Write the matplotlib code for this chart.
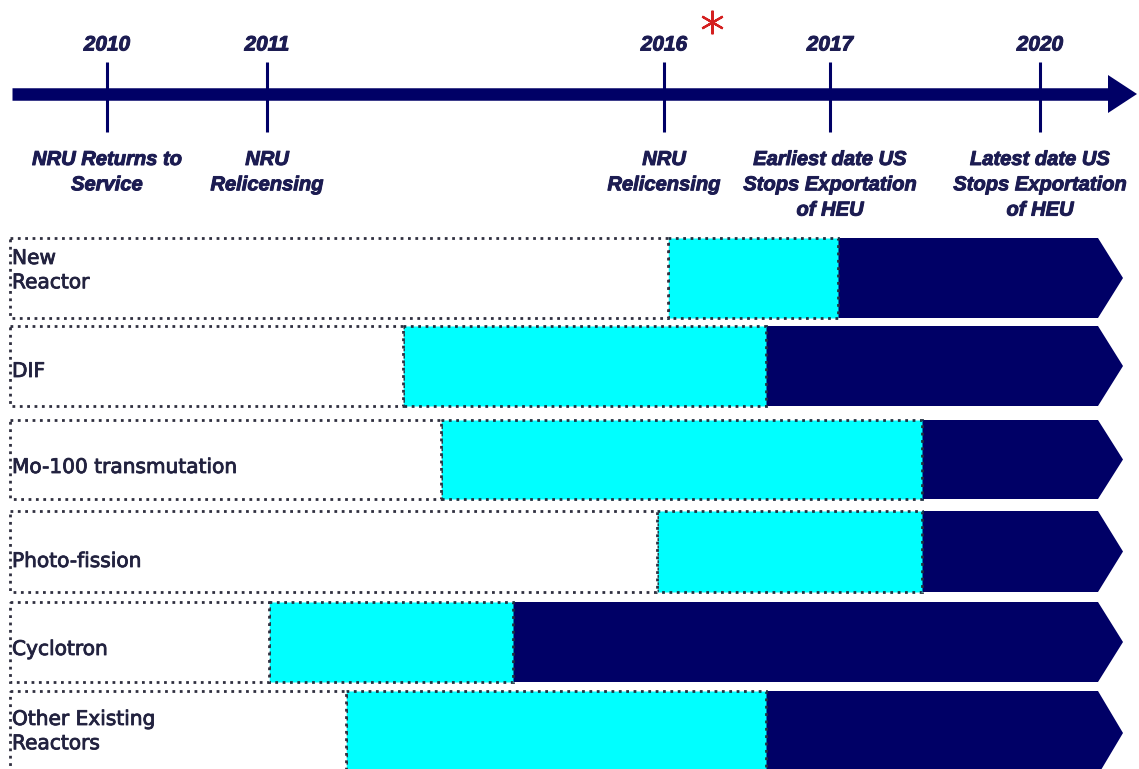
import matplotlib.pyplot as plt
import matplotlib.patheffects as pe
from matplotlib.patches import Rectangle, Polygon

# timeline milestones (positions along the drawing's horizontal scale)
years = ["2010", "2011", "2016", "2017", "2020"]
year_pos = [107, 267, 664, 830, 1040]
milestones = ["NRU Returns to\nService",
              "NRU\nRelicensing",
              "NRU\nRelicensing",
              "Earliest date US\nStops Exportation\nof HEU",
              "Latest date US\nStops Exportation\nof HEU"]

# production pathways: where the development (cyan) and supply (navy) phases begin
pathways = ["New\nReactor", "DIF", "Mo-100 transmutation", "Photo-fission",
            "Cyclotron", "Other Existing\nReactors"]
cyan_start = [668, 403, 441, 657, 269, 346]
navy_start = [838, 766, 922, 922, 513, 766]
row_top = [238, 326, 420, 511, 602, 691]
row_bottom = [318, 406, 499, 592, 682, 775]
# vertical centre of each label's first line
label_y = [259, 372, 468, 562, 650, 720]

NAVY = "#000066"
CYAN = "#00ffff"
TXT = "#1c1c52"
BAR_LEFT = 10
BAR_END = 1098
TIP = 1123

fig = plt.figure(figsize=(11.39, 7.69), dpi=100)
ax = fig.add_axes([0, 0, 1, 1])
ax.set_xlim(0, 1139)
ax.set_ylim(769, 0)
ax.axis("off")

# main timeline arrow
ax.plot([12, 1112], [94, 94], color=NAVY, lw=9, solid_capstyle="butt", zorder=2)
ax.add_patch(Polygon([(1108, 75), (1137, 94), (1108, 113)], closed=True,
                     facecolor=NAVY, edgecolor="none", zorder=2))
ax.vlines(year_pos, 62, 132, color=NAVY, lw=2.2, zorder=3)

heavy = [pe.withStroke(linewidth=0.7, foreground=TXT)]
for x, yr, txt in zip(year_pos, years, milestones):
    ax.text(x, 45, yr, ha="center", va="center", fontsize=15,
            family="Liberation Sans", weight="bold", style="italic", color=TXT,
            path_effects=heavy)
    ax.text(x, 150, txt, ha="center", va="top", fontsize=14.5, linespacing=1.42,
            family="Liberation Sans", weight="bold", style="italic", color=TXT,
            path_effects=heavy)

# red asterisk next to 2016
ax.plot(712, 22, marker=(6, 2, 0), markersize=17, mew=1.6, color="#d42020")

for i, name in enumerate(pathways):
    top, bot = row_top[i], row_bottom[i]
    h = bot - top
    mid = (top + bot) / 2
    # navy chevron
    ax.add_patch(Polygon([(navy_start[i], top), (BAR_END, top), (TIP, mid),
                          (BAR_END, bot), (navy_start[i], bot)], closed=True,
                         facecolor=NAVY, edgecolor="none", zorder=2))
    # cyan development phase
    ax.add_patch(Rectangle((cyan_start[i], top), navy_start[i] - cyan_start[i], h,
                           facecolor=CYAN, edgecolor="#203040", lw=2, ls=":", zorder=3))
    # white planning phase
    ax.add_patch(Rectangle((BAR_LEFT, top), cyan_start[i] - BAR_LEFT, h,
                           facecolor="white", edgecolor="#303040", lw=2, ls=":", zorder=3))
    ax.text(BAR_LEFT + 2, label_y[i] - 10, name, ha="left", va="top", fontsize=14.5,
            linespacing=1.35, family="DejaVu Sans", color="#22223f", zorder=4,
            path_effects=[pe.withStroke(linewidth=0.6, foreground="#22223f")])

fig.savefig("out.png", dpi=100)
